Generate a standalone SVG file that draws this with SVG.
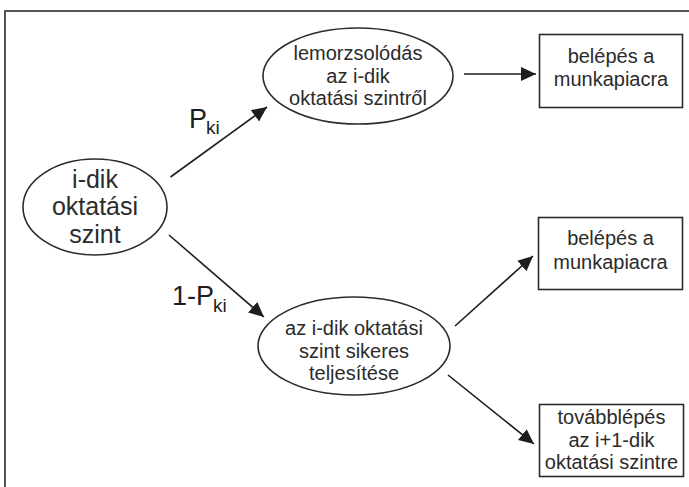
<svg xmlns="http://www.w3.org/2000/svg" width="689" height="487" viewBox="0 0 689 487">
<style>
.shape{fill:#fff;stroke:#2b2b2b;stroke-width:1.6}
.t{font-family:"Liberation Sans",Arial,sans-serif;font-size:20px;fill:#2b2b2b;text-anchor:middle;dominant-baseline:middle}
.big{font-size:25px}
.lbl{font-family:"Liberation Sans",Arial,sans-serif;fill:#1e1e1e}
.conn line{stroke:#1e1e1e;stroke-width:1.6;marker-end:url(#ah)}
</style>
<defs>
<marker id="ah" markerUnits="userSpaceOnUse" markerWidth="16" markerHeight="14" refX="15" refY="7" orient="auto">
<path d="M0,0 L15,7 L0,14 Z" fill="#1e1e1e"/>
</marker>
</defs>
<rect x="0" y="0" width="689" height="487" fill="#fff"/>
<rect x="5" y="11" width="720" height="520" fill="none" stroke="#2b2b2b" stroke-width="1.6"/>
<g id="n-level">
<ellipse class="shape" cx="95" cy="207" rx="72" ry="48"/>
<text class="t big" x="95" y="181">i-dik</text>
<text class="t big" x="95" y="208">oktatási</text>
<text class="t big" x="95" y="236">szint</text>
</g>
<g id="n-dropout">
<ellipse class="shape" cx="358" cy="76" rx="95" ry="48"/>
<text class="t" x="358" y="55">lemorzsolódás</text>
<text class="t" x="358" y="78">az i-dik</text>
<text class="t" x="358" y="100">oktatási szintről</text>
</g>
<g id="n-success">
<ellipse class="shape" cx="354" cy="346" rx="96" ry="49"/>
<text class="t" x="354" y="330">az i-dik oktatási</text>
<text class="t" x="354" y="353">szint sikeres</text>
<text class="t" x="354" y="375">teljesítése</text>
</g>
<g id="n-job1">
<rect class="shape" x="539.5" y="34.5" width="143" height="73"/>
<text class="t" x="611" y="58">belépés a</text>
<text class="t" x="611" y="81">munkapiacra</text>
</g>
<g id="n-job2">
<rect class="shape" x="538.5" y="217.5" width="144" height="72"/>
<text class="t" x="610.5" y="240">belépés a</text>
<text class="t" x="610.5" y="264">munkapiacra</text>
</g>
<g id="n-next">
<rect class="shape" x="539.5" y="404.5" width="144" height="72"/>
<text class="t" x="611.5" y="419">továbblépés</text>
<text class="t" x="611.5" y="442">az i+1-dik</text>
<text class="t" x="611.5" y="464">oktatási szintre</text>
</g>
<g id="connectors" class="conn">
<line x1="170.5" y1="177" x2="267" y2="107"/>
<line x1="169" y1="235" x2="264" y2="317"/>
<line x1="464" y1="74" x2="536" y2="74"/>
<line x1="455" y1="326" x2="533" y2="256"/>
<line x1="448" y1="375" x2="534" y2="444"/>
</g>
<g id="labels">
<text class="lbl" x="189" y="128" font-size="27">P<tspan font-size="19" dx="-1" dy="6">ki</tspan></text>
<text class="lbl" x="172" y="305" font-size="27">1-P<tspan font-size="19" dx="-1" dy="7">ki</tspan></text>
</g>
</svg>
